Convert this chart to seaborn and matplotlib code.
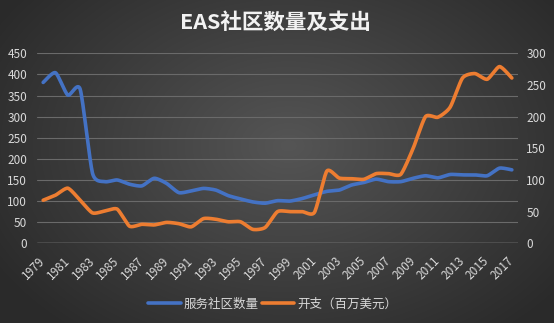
import numpy as np
import pandas as pd
import matplotlib
matplotlib.use("Agg")
import matplotlib.pyplot as plt
import seaborn as sns

# ---- data -------------------------------------------------------------
years = list(range(1979, 2018))
communities = [381, 404, 351, 365, 166, 146, 150, 140, 136, 154,
               142, 120, 124, 130, 126, 113, 105, 98, 95, 101,
               100, 106, 115, 123, 126, 138, 144, 152, 146, 146,
               154, 160, 155, 163, 162, 162, 160, 178, 174]
spending = [68, 76, 87, 68, 48, 51, 54, 27, 30, 29,
            33, 31, 26, 39, 38, 34, 34, 22, 25, 50,
            50, 50, 49, 114, 103, 102, 101, 110, 110, 109,
            150, 200, 199, 215, 261, 268, 259, 279, 261]
label_communities = "服务社区数量"
label_spending = "开支（百万美元）"
title = "EAS社区数量及支出"
left_ticks = list(range(0, 451, 50))
right_ticks = list(range(0, 301, 50))
year_ticks = years[::2]

BLUE = "#4472C4"
ORANGE = "#ED7D31"
TEXT = "#d9d9d9"


def smooth_curve(xs, ys, n=16, tension=0.65):
    """Cardinal spline through every data point (gentle rounding of corners)."""
    x = np.asarray(xs, float)
    y = np.asarray(ys, float)
    px = np.concatenate([[x[0]], x, [x[-1]]])
    py = np.concatenate([[y[0]], y, [y[-1]]])
    t = np.linspace(0, 1, n, endpoint=False)
    h00 = 2 * t ** 3 - 3 * t ** 2 + 1
    h10 = t ** 3 - 2 * t ** 2 + t
    h01 = -2 * t ** 3 + 3 * t ** 2
    h11 = t ** 3 - t ** 2
    out_x, out_y = [], []
    for i in range(1, len(px) - 2):
        for arr, out in ((px, out_x), (py, out_y)):
            p0, p1, p2, p3 = arr[i - 1], arr[i], arr[i + 1], arr[i + 2]
            m1 = tension * (p2 - p0) / 2
            m2 = tension * (p3 - p1) / 2
            out.extend(h00 * p1 + h10 * m1 + h01 * p2 + h11 * m2)
    out_x.append(x[-1])
    out_y.append(y[-1])
    return pd.DataFrame({"year": out_x, "value": out_y})


sns.set_theme(style="white")
plt.rcParams["font.family"] = ["Noto Sans CJK SC", "DejaVu Sans"]

W, H = 554, 323
fig = plt.figure(figsize=(W / 100, H / 100), dpi=100)

# radial gradient backdrop
bg = fig.add_axes([0, 0, 1, 1], zorder=-5)
yy, xx = np.mgrid[0:H, 0:W]
r = np.sqrt(((xx - W * 0.52) / (W * 0.62)) ** 2 + ((yy - H * 0.45) / (H * 0.75)) ** 2)
r = np.clip(r, 0, 1)
c_in, c_out = np.array([0x55, 0x55, 0x55]) / 255, np.array([0x2a, 0x2a, 0x2a]) / 255
img = c_in[None, None, :] * (1 - r[..., None]) + c_out[None, None, :] * r[..., None]
bg.imshow(img, aspect="auto", extent=[0, 1, 0, 1])
bg.set_axis_off()

left, right, bottom, top = 37 / W, 518 / W, 1 - 243.3 / H, 1 - 53.3 / H
ax = fig.add_axes([left, bottom, right - left, top - bottom])
ax.set_facecolor("none")
ax2 = ax.twinx()
ax2.set_facecolor("none")

sns.lineplot(data=smooth_curve(years, communities), x="year", y="value", ax=ax,
             color=BLUE, linewidth=2.6, label=label_communities, sort=False)
sns.lineplot(data=smooth_curve(years, spending), x="year", y="value", ax=ax2,
             color=ORANGE, linewidth=2.6, label=label_spending, sort=False)

ax.set_xlim(years[0] - 0.5, years[-1] + 0.5)
ax.set_ylim(0, 450)
ax2.set_ylim(0, 300)
ax.set_yticks(left_ticks)
ax2.set_yticks(right_ticks)
ax.set_xticks(year_ticks)
ax.set_xticklabels([str(y) for y in year_ticks])

for a in (ax, ax2):
    for s in a.spines.values():
        s.set_visible(False)
    a.set_xlabel("")
    a.set_ylabel("")
    a.tick_params(length=0, colors=TEXT, labelsize=8.5)
    a.grid(False)

for v in left_ticks[1:]:
    ax.axhline(v, color="#6a6a6a", linewidth=0.8, zorder=0)
ax.axhline(0, color="#b0b0b0", linewidth=1.0, zorder=0)

ax.tick_params(axis="y", pad=7)
ax2.tick_params(axis="y", pad=6)
ax.tick_params(axis="x", pad=11)
plt.setp(ax.get_xticklabels(), rotation=45, ha="right", va="center",
         rotation_mode="anchor")

h1, l1 = ax.get_legend_handles_labels()
h2, l2 = ax2.get_legend_handles_labels()
for a in (ax, ax2):
    if a.get_legend() is not None:
        a.get_legend().remove()
fig.legend(h1 + h2, l1 + l2, loc="center", bbox_to_anchor=(0.492, 1 - 304 / H),
           ncol=2, frameon=False, handlelength=2.6, handletextpad=0.2,
           columnspacing=0.3, fontsize=9, labelcolor=TEXT)

fig.text(0.497, 1 - 22 / H, title, ha="center", va="center", color="#f2f2f2",
         fontsize=15.5, fontweight="bold")

fig.savefig("out.png", dpi=100)
